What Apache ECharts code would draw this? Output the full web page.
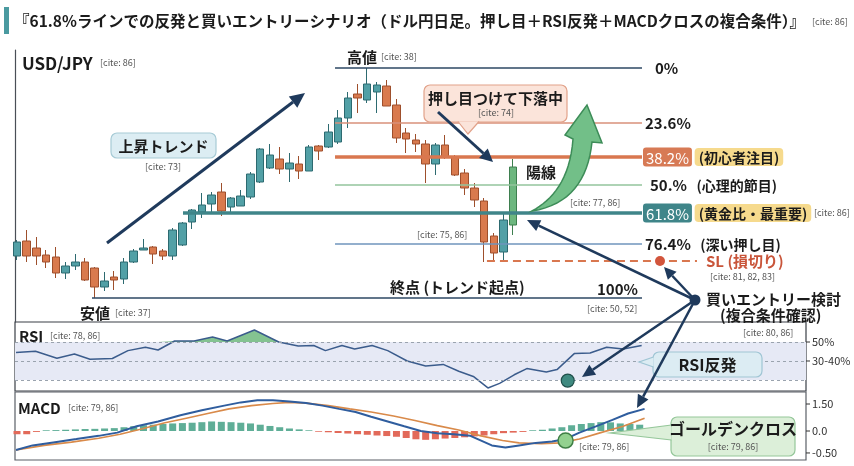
<!DOCTYPE html>
<html><head><meta charset="utf-8">
<script src="https://cdn.jsdelivr.net/npm/echarts@6/dist/echarts.min.js"></script>
<style>html,body{margin:0;padding:0;background:#fff;}#chart{width:854px;height:466px;}</style>
</head><body><div id="chart"></div>
<script>
// ---------------- data ----------------
const categories = Array.from({length: 86}, (_, i) => 'D' + (i + 1));
// [open, close, low, high]
const candleOHLC = [
[143.30,144.00,143.10,144.10],[144.05,143.30,143.00,144.60],[143.70,143.30,142.85,144.25],
[143.35,143.00,142.70,143.60],[143.25,142.45,142.20,143.75],[142.45,142.80,142.15,143.00],
[142.80,143.00,142.60,143.40],[143.00,142.10,142.05,143.20],[142.70,141.75,141.20,142.75],
[141.75,142.05,141.55,142.50],[142.25,142.10,141.60,142.55],[142.15,143.00,141.90,143.20],
[143.00,143.55,142.95,143.65],[143.60,143.70,143.60,144.15],[143.75,143.40,142.90,143.80],
[143.55,143.30,143.10,143.65],[143.30,144.60,143.10,144.70],[143.85,144.95,143.80,145.00],
[145.00,145.60,144.65,145.65],[145.50,145.85,145.20,146.45],[145.90,146.35,145.45,146.50],
[146.50,145.55,145.30,146.95],[145.75,146.20,145.50,146.25],[145.80,146.30,145.80,146.60],
[146.25,147.40,146.15,147.50],[147.00,148.65,146.95,148.70],[147.70,148.35,147.65,148.90],
[148.15,147.65,147.40,148.75],[147.65,147.95,147.00,148.45],[147.90,147.55,147.15,148.30],
[147.55,148.75,147.55,148.85],[148.80,148.55,148.10,148.85],[148.75,149.50,148.70,149.90],
[149.00,150.20,148.90,150.60],[150.20,151.20,149.70,151.50],[151.40,151.20,150.45,151.90],
[151.10,151.90,150.95,152.70],[151.50,151.85,150.45,152.00],[151.80,150.80,150.80,152.10],
[150.85,149.20,148.95,151.15],[149.45,149.15,148.45,149.70],[149.10,148.90,148.50,149.40],
[148.90,147.90,146.95,149.10],[147.90,148.85,147.35,148.95],[148.85,148.25,148.15,149.35],
[148.25,147.35,147.30,148.35],[147.45,146.70,146.35,147.65],[146.70,146.10,145.75,146.95],
[146.05,144.00,143.00,146.20],[144.30,143.45,143.00,144.45],[143.50,145.10,143.00,145.45],
[144.85,147.75,144.35,148.15]
];
const fibLabels = ['0%','23.6%','38.2%','50.%','61.8%','76.4%','100%'];
const fibPrices = [152.70,149.95,148.25,146.85,145.45,143.90,141.20];
const fibNotes  = ['','','(初心者注目)','(心理的節目)','(黄金比・最重要)','(深い押し目)',''];
const slPrice = 143.05;

const rsiX = [-0.1,1.9,4.1,5.9,7.5,9.8,11.4,13.2,14.5,16.2,18.2,20.1,21.6,24.4,26.9,28.9,30.5,31.7,33.4,34.7,36.5,38.1,40.1,42.0,43.8,45.4,46.9,48.4,49.6,51.1,52.4,54.4,55.5,57.3,58.9,60.6,62.3,64.2];
const rsiValues = [41.8,42.7,37.2,40.5,36.4,37.0,43.2,45.9,43.7,50.8,50.8,53.9,50.8,59.5,50.0,46.8,47.2,43.2,47.2,44.5,47.2,43.2,35.0,31.1,32.3,26.9,22.8,13.7,17.3,24.1,29.0,26.3,28.2,41.0,41.3,45.9,44.5,47.2];
const rsiLevels = [50, 35, 20];
const rsiTickLabels = ['50%', '30-40%'];

const macdX = [-0.1,1.6,3.9,6.1,8.4,10.3,12.3,14.5,16.8,19.0,21.3,23.0,24.7,26.3,28.0,29.7,31.4,33.1,34.8,36.4,38.1,39.8,41.5,43.2,44.9,46.6,47.7,48.8,50.2,51.6,53.3,55.0,56.4,57.8,59.5,61.2,62.8,64.5];
const macdValues = [-1.06,-0.80,-0.62,-0.45,-0.27,-0.09,0.26,0.53,0.88,1.15,1.41,1.59,1.71,1.71,1.64,1.55,1.41,1.23,1.06,0.79,0.53,0.26,0.00,-0.13,-0.18,-0.27,-0.53,-0.80,-0.92,-0.80,-0.66,-0.58,-0.44,-0.09,0.26,0.62,0.97,1.23];
const signalX = [-0.1,2.8,5.6,8.4,10.6,12.9,15.1,17.4,19.6,21.8,24.1,26.3,28.0,29.7,32.0,34.2,36.4,38.7,40.9,43.2,45.4,47.7,49.9,51.6,53.9,55.8,57.8,60.0,62.3,64.5];
const signalValues = [-1.06,-0.80,-0.62,-0.40,-0.18,0.12,0.44,0.71,0.97,1.23,1.41,1.53,1.59,1.55,1.41,1.23,1.06,0.83,0.58,0.30,0.06,-0.27,-0.53,-0.66,-0.71,-0.66,-0.44,-0.09,0.26,0.71];
const histValues = [-0.18,-0.18,-0.05,0.04,0.05,0.07,0.09,0.11,0.12,0.14,0.16,0.21,0.27,0.32,0.35,0.39,0.42,0.44,0.46,0.49,0.53,0.51,0.49,0.46,0.42,0.35,0.28,0.21,0.14,0.09,0.04,-0.04,-0.07,-0.11,-0.14,-0.18,-0.21,-0.25,-0.28,-0.32,-0.39,-0.46,-0.49,-0.46,-0.42,-0.39,-0.35,-0.30,-0.25,-0.18,-0.12,-0.09,-0.05,0.04,0.07,0.14,0.21,0.32,0.39,0.44,0.49,0.48,0.42,0.39,0.35];
const macdTickValues = [1.5, 0, -1.22];
const macdTickLabels = ['1.50', '0.0', '-0.50'];

// ---------------- styles ----------------
const FONT = '"Noto Sans CJK JP","Noto Sans",sans-serif';
const INK = '#1b1b1b';
const NAVY = '#1f3a5c';
const RICH = {
  p:  {fontFamily:FONT, fontWeight:'bold', fontSize:15, color:INK},
  bo: {fontFamily:FONT, fontSize:15, color:'#fff', backgroundColor:'#d77a55', padding:[3,3,1,3], borderRadius:3},
  bt: {fontFamily:FONT, fontSize:15, color:'#fff', backgroundColor:'#3f8589', padding:[3,3,1,3], borderRadius:3},
  n:  {fontFamily:FONT, fontWeight:'bold', fontSize:14, color:INK, backgroundColor:'#f6da8d', padding:[3,4,1,4], borderRadius:4},
  m:  {fontFamily:FONT, fontWeight:'bold', fontSize:14, color:INK, padding:[3,4,1,4]},
  c:  {fontFamily:FONT, fontSize:9, color:'#555'},
  sl: {fontFamily:FONT, fontWeight:'bold', fontSize:15, color:'#c9553a'}
};
const fibStyle = [
  {c:'#2c4763', w:1.5, s:32.69, d:13, k:'p'},
  {c:'#d9907a', w:1.5, s:32.69, d:3,  k:'p'},
  {c:'#d9774f', w:3.5, s:32.69, d:1,  k:'bo'},
  {c:'#93c49c', w:1.5, s:32.69, d:8,  k:'p'},
  {c:'#3f8589', w:3.5, s:17.07, d:1,  k:'bt'},
  {c:'#6f95bd', w:1.5, s:32.69, d:3,  k:'p'},
  {c:'#2c4763', w:1.5, s:7.72,  d:0,  k:'p'}
];
const fibEnd = 64.23;

const fibLines = fibPrices.map((p, i) => {
  const st = fibStyle[i];
  let fmt = '{' + st.k + '|' + fibLabels[i] + '}';
  if (fibNotes[i]) fmt += (st.k === 'p' ? '  {m|' : ' {n|') + fibNotes[i] + '}';
  if (i === 4) fmt += ' {c|[cite: 86]}';
  return [
    {coord:[st.s, p], lineStyle:{color:st.c, width:st.w, type:'solid'},
     label:{show: i !== 6, position:'end', distance:st.d, formatter:fmt, rich:RICH}},
    {coord:[fibEnd, p]}
  ];
});
fibLines.push([
  {coord:[48.3, slPrice], lineStyle:{color:'#d9774f', width:2, type:[8,5]},
   label:{show:true, position:'end', distance:9, formatter:'{sl|SL (損切り)}', rich:RICH}},
  {coord:[69.88, slPrice]}
]);

const candleData = candleOHLC.map((v, i) => i === candleOHLC.length - 1
  ? {value:v, itemStyle:{color:'#6db77f', color0:'#6db77f', borderColor:'#3e7f4f', borderColor0:'#3e7f4f'}}
  : v);

const rsiPairs = rsiX.map((x, i) => [x, rsiValues[i]]);
// fill above the 50 line: same points, held at 50 where RSI is below it
const rsiAbove = rsiX.map((x, i) => [x, Math.max(rsiValues[i], 50)]);

const chart = echarts.init(document.getElementById('chart'));
const option = {
  animation:false,
  textStyle:{fontFamily:FONT},
  grid:[
    {left:12, right:5, top:50, height:272},
    {left:15, right:48, top:322, height:69, show:true, borderColor:'#3a3f47', borderWidth:1.2},
    {left:15, right:48, top:392, height:68, show:true, borderColor:'#5a5f67', borderWidth:1.2}
  ],
  xAxis:[
    {gridIndex:0, type:'category', data:categories, axisLine:{show:false}, axisTick:{show:false}, axisLabel:{show:false}},
    {gridIndex:0, type:'value', min:-0.5, max:85.5, show:false},
    {gridIndex:1, type:'value', min:-0.2056, max:81.09, show:false},
    {gridIndex:2, type:'value', min:-0.2056, max:81.09, show:false}
  ],
  yAxis:[
    {gridIndex:0, type:'value', min:140, max:153.6, offset:-3,
     axisLine:{show:true, onZero:false, lineStyle:{color:'#4a4f57', width:1.2}},
     axisTick:{show:false}, axisLabel:{show:false}, splitLine:{show:false}},
    {gridIndex:1, type:'value', min:11.3, max:65.8, show:false, splitLine:{show:false}},
    {gridIndex:2, type:'value', min:-1.611, max:2.167, show:false, splitLine:{show:false}}
  ],
  series:[
    {type:'candlestick', xAxisIndex:0, yAxisIndex:0, data:candleData, barWidth:8, z:3,
     itemStyle:{color:'#52a0a6', color0:'#d97a4e', borderColor:'#2d6a70', borderColor0:'#9e4f2c', borderWidth:1}},
    {type:'line', xAxisIndex:1, yAxisIndex:0, data:[], z:1,
     markLine:{silent:true, symbol:['none','none'], animation:false, data:fibLines},
     markPoint:{silent:true, animation:false, data:[{coord:[66.08, slPrice], symbol:'circle', symbolSize:10,
       itemStyle:{color:'#d2553c'}, label:{show:false}}]}},
    {type:'line', xAxisIndex:2, yAxisIndex:1, data:rsiAbove, symbol:'none', z:1,
     lineStyle:{width:0, opacity:0}, areaStyle:{origin:50, color:'#7dc08b', opacity:0.95},
     markArea:{silent:true, itemStyle:{color:'#e6e9f5'}, data:[[{yAxis:rsiLevels[2]},{yAxis:rsiLevels[0]}]]},
     markLine:{silent:true, symbol:['none','none'], label:{show:false},
       lineStyle:{color:'#9aa3ae', type:[3,3], width:1}, data:rsiLevels.map(v=>({yAxis:v}))}},
    {type:'line', xAxisIndex:2, yAxisIndex:1, data:rsiPairs, symbol:'none', z:4,
     lineStyle:{color:'#3b5c8c', width:1.5},
     markPoint:{silent:true, data:[{coord:[56.6, 19.5], symbol:'circle', symbolSize:13,
       itemStyle:{color:'#3f8a80', borderColor:'#1f4f4a', borderWidth:1.2}, label:{show:false}}]}},
    {type:'bar', xAxisIndex:3, yAxisIndex:2, data:histValues.map((v,i)=>[i, v]), barWidth:7, z:2,
     itemStyle:{color:p => p.value[1] >= 0 ? '#5fae97' : '#e26a5a'}},
    {type:'line', xAxisIndex:3, yAxisIndex:2, data:signalX.map((x,i)=>[x, signalValues[i]]), symbol:'none', z:3,
     lineStyle:{color:'#d98a4a', width:1.6}},
    {type:'line', xAxisIndex:3, yAxisIndex:2, data:macdX.map((x,i)=>[x, macdValues[i]]), symbol:'none', z:4,
     lineStyle:{color:'#2f5d9e', width:2},
     markPoint:{silent:true, data:[{coord:[56.38, -0.53], symbol:'circle', symbolSize:15,
       itemStyle:{color:'#93d18f', borderColor:'#3f7f45', borderWidth:1.5}, label:{show:false}}]}}
  ]
};
chart.setOption(option);

// ---------------- annotations ----------------
const G = [];
function T(x, y, text, o) {
  const s = Object.assign({text:text, fill:INK, fontSize:15, fontWeight:'bold', fontFamily:FONT,
    align:'left', verticalAlign:'middle', textAlign:'left', textVerticalAlign:'middle'}, o || {});
  if (o && o.align) s.textAlign = o.align;
  G.push({type:'text', x:x, y:y, z:60, style:s});
}
function C(x, y, text, align) { T(x, y, text, {fontSize:9, fontWeight:'normal', fill:'#555', align:align || 'left'}); }
function A(x1, y1, x2, y2, color, w, hl, hw) {
  const a = Math.atan2(y2 - y1, x2 - x1);
  const bx = x2 - hl * Math.cos(a), by = y2 - hl * Math.sin(a);
  const px = -Math.sin(a) * hw, py = Math.cos(a) * hw;
  G.push({type:'line', z:55, shape:{x1:x1, y1:y1, x2:bx, y2:by}, style:{stroke:color, lineWidth:w}});
  G.push({type:'polygon', z:55, shape:{points:[[x2,y2],[bx+px,by+py],[bx-px,by-py]]}, style:{fill:color}});
}
function cubic(p0, p1, p2, p3, n) {
  const pts = [];
  for (let k = 0; k <= n; k++) {
    const t = k / n, u = 1 - t;
    pts.push([u*u*u*p0[0] + 3*u*u*t*p1[0] + 3*u*t*t*p2[0] + t*t*t*p3[0],
              u*u*u*p0[1] + 3*u*u*t*p1[1] + 3*u*t*t*p2[1] + t*t*t*p3[1]]);
  }
  return pts;
}
function callout(x, y, w, h, tail, fill, stroke) {
  G.push({type:'rect', z:50, shape:{x:x, y:y, width:w, height:h, r:6}, style:{fill:fill, stroke:stroke, lineWidth:1.2}});
  G.push({type:'polygon', z:51, shape:{points:tail}, style:{fill:fill}});
  G.push({type:'polyline', z:51, shape:{points:tail}, style:{stroke:stroke, lineWidth:1.2, fill:null}});
}

// title
G.push({type:'rect', z:50, shape:{x:4, y:7, width:5, height:27}, style:{fill:'#4a9aa0'}});
T(14, 21, '『61.8%ラインでの反発と買いエントリーシナリオ（ドル円日足。押し目＋RSI反発＋MACDクロスの複合条件）』', {fontSize:15.5});
C(812, 22, '[cite: 86]');

// main panel texts
T(22, 64, 'USD/JPY', {fontSize:17});
C(100, 63, '[cite: 86]');
T(347, 57, '高値');
C(381, 57, '[cite: 38]');
G.push({type:'rect', z:50, shape:{x:111, y:133, width:105, height:25, r:6}, style:{fill:'#dcedf3', stroke:'#a7cbd6', lineWidth:1.2}});
T(163.5, 146, '上昇トレンド', {align:'center'});
C(163, 167, '[cite: 73]', 'center');
A(107, 243, 305, 93, NAVY, 3, 15, 7);
T(80, 313, '安値');
C(115, 313, '[cite: 37]');
T(390, 287, '終点 (トレンド起点)');
T(597, 289, '100%');
C(587, 309, '[cite: 50, 52]');

callout(424, 85, 143, 37, [[458,121.5],[468,134],[479,121.5]], '#fbe4da', '#e2a28a');
T(495.5, 98, '押し目つけて下落中', {align:'center'});
C(496, 113, '[cite: 74]', 'center');
A(438, 112, 493, 162, NAVY, 3, 13, 6.5);
T(526, 172, '陽線');

// green curved arrow
const leftEdge = cubic([532,211],[552,200],[570,180],[573,139], 16);
const rightEdge = cubic([592,142],[588,180],[570,205],[532,211], 16);
G.push({type:'polygon', z:54, shape:{points: leftEdge.concat([[565,135],[587,105],[602,143]], rightEdge)},
  style:{fill:'#72bf88', stroke:'#3d8c58', lineWidth:1.5}});

C(570, 203, '[cite: 77, 86]');
C(417, 235, '[cite: 75, 86]');
C(710, 277, '[cite: 81, 82, 83]');

// entry annotation
A(695, 300, 527, 220, NAVY, 2.5, 13, 6);
A(695, 300, 664, 267, NAVY, 2.5, 12, 6);
A(695, 300, 582, 377, NAVY, 2.5, 13, 6);
A(695, 300, 637, 408, NAVY, 2.5, 13, 6);
G.push({type:'circle', z:56, shape:{cx:695, cy:300, r:5.5}, style:{fill:NAVY}});
T(706, 299, '買いエントリー検討', {fontSize:15});
T(720, 315, '(複合条件確認)');
C(743, 333, '[cite: 80, 86]');

// RSI panel
T(19, 336, 'RSI');
C(50, 336, '[cite: 78, 86]');
callout(653, 352, 109, 25, [[653.5,357],[639,362],[653.5,367]], '#dcecf3', '#9fc5d4');
T(707.5, 365, 'RSI反発', {align:'center', fontSize:16});

// MACD panel
T(18, 408, 'MACD');
C(68, 408, '[cite: 79, 86]');
C(579, 447, '[cite: 79, 86]');
callout(671, 417, 124, 39, [[671.5,425],[610,433],[671.5,440]], '#dcefd9', '#95c79a');
T(733, 429, 'ゴールデンクロス', {align:'center', fontSize:16});
C(733, 447, '[cite: 79, 86]', 'center');

// axis tick labels (positions from the library's scales)
rsiTickLabels.forEach((t, i) => {
  const y = chart.convertToPixel({yAxisIndex:1}, rsiLevels[i]);
  G.push({type:'line', z:50, shape:{x1:806, y1:y, x2:810, y2:y}, style:{stroke:'#333', lineWidth:1}});
  T(812, y, t, {fontSize:11, fontWeight:'normal', fill:'#333'});
});
macdTickLabels.forEach((t, i) => {
  const y = chart.convertToPixel({yAxisIndex:2}, macdTickValues[i]);
  G.push({type:'line', z:50, shape:{x1:806, y1:y, x2:810, y2:y}, style:{stroke:'#333', lineWidth:1}});
  T(812, y, t, {fontSize:11, fontWeight:'normal', fill:'#333'});
});

chart.setOption({graphic: G});
</script>
</body></html>
